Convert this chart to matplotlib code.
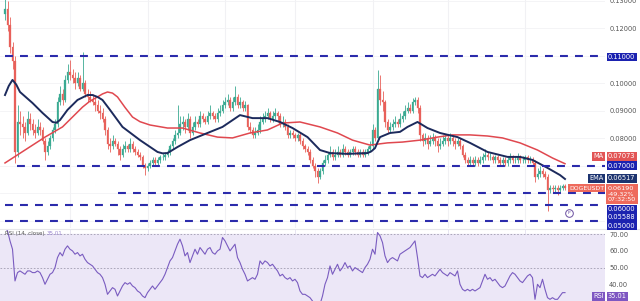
import numpy as np
import matplotlib
matplotlib.use("Agg")
import matplotlib.pyplot as plt

# ---------------- data ----------------
first_open = 0.1250
close = [
    0.1270, 0.1210, 0.1130, 0.1080, 0.0750, 0.0860, 0.0850, 0.0840, 0.0820, 0.0870,
    0.0850, 0.0830, 0.0820, 0.0840, 0.0830, 0.0790, 0.0750, 0.0770, 0.0800, 0.0830,
    0.0850, 0.0930, 0.0960, 0.0940, 0.1010, 0.1040, 0.1030, 0.1020, 0.1000, 0.1020,
    0.0980, 0.1000, 0.0960, 0.0950, 0.0940, 0.0930, 0.0920, 0.0900, 0.0890, 0.0870,
    0.0830, 0.0780, 0.0770, 0.0790, 0.0780, 0.0760, 0.0740, 0.0760, 0.0770, 0.0760,
    0.0780, 0.0760, 0.0750, 0.0740, 0.0730, 0.0700, 0.0690, 0.0700, 0.0710, 0.0720,
    0.0710, 0.0720, 0.0730, 0.0730, 0.0740, 0.0750, 0.0770, 0.0790, 0.0810, 0.0820,
    0.0850, 0.0860, 0.0840, 0.0870, 0.0820, 0.0840, 0.0860, 0.0850, 0.0880, 0.0870,
    0.0860, 0.0880, 0.0890, 0.0880, 0.0870, 0.0890, 0.0900, 0.0920, 0.0930, 0.0940,
    0.0910, 0.0930, 0.0950, 0.0920, 0.0930, 0.0910, 0.0920, 0.0840, 0.0830, 0.0810,
    0.0820, 0.0830, 0.0860, 0.0870, 0.0880, 0.0890, 0.0870, 0.0880, 0.0890, 0.0880,
    0.0850, 0.0860, 0.0840, 0.0810, 0.0820, 0.0810, 0.0800, 0.0810, 0.0790, 0.0770,
    0.0760, 0.0750, 0.0720, 0.0700, 0.0680, 0.0660, 0.0680, 0.0710, 0.0720, 0.0740,
    0.0750, 0.0730, 0.0740, 0.0750, 0.0740, 0.0760, 0.0750, 0.0740, 0.0750, 0.0760,
    0.0750, 0.0740, 0.0750, 0.0740, 0.0750, 0.0760, 0.0770, 0.0830, 0.0800, 0.0980,
    0.0940, 0.0930, 0.0860, 0.0830, 0.0840, 0.0850, 0.0860, 0.0850, 0.0870, 0.0880,
    0.0900, 0.0910, 0.0900, 0.0930, 0.0940, 0.0910, 0.0810, 0.0790, 0.0800, 0.0780,
    0.0790, 0.0800, 0.0790, 0.0770, 0.0780, 0.0790, 0.0800, 0.0790, 0.0800, 0.0790,
    0.0780, 0.0790, 0.0770, 0.0740, 0.0720, 0.0710, 0.0720, 0.0710, 0.0720, 0.0710,
    0.0720, 0.0730, 0.0740, 0.0730, 0.0730, 0.0720, 0.0730, 0.0720, 0.0710, 0.0720,
    0.0710, 0.0720, 0.0730, 0.0720, 0.0720, 0.0730, 0.0720, 0.0720, 0.0730, 0.0720,
    0.0720, 0.0710, 0.0660, 0.0670, 0.0680, 0.0670, 0.0660, 0.0610, 0.0620, 0.0615,
    0.0620, 0.0610, 0.0620, 0.0625, 0.0619,
]
high = [
    0.1320, 0.1300, 0.1240, 0.1150, 0.1100, 0.0920, 0.0900, 0.0880, 0.0860, 0.0900,
    0.0890, 0.0870, 0.0850, 0.0870, 0.0860, 0.0840, 0.0800, 0.0790, 0.0810, 0.0840,
    0.0870, 0.0950, 0.0990, 0.0980, 0.1030, 0.1070, 0.1085, 0.1050, 0.1040, 0.1040,
    0.1030, 0.1113, 0.1010, 0.0980, 0.0970, 0.0960, 0.0950, 0.0940, 0.0920, 0.0910,
    0.0880, 0.0840, 0.0800, 0.0810, 0.0800, 0.0790, 0.0770, 0.0780, 0.0790, 0.0780,
    0.0800, 0.0790, 0.0770, 0.0760, 0.0750, 0.0740, 0.0710, 0.0710, 0.0720, 0.0730,
    0.0730, 0.0730, 0.0740, 0.0745, 0.0750, 0.0760, 0.0780, 0.0800, 0.0830, 0.0920,
    0.0880, 0.0880, 0.0870, 0.0890, 0.0880, 0.0860, 0.0880, 0.0870, 0.0900, 0.0890,
    0.0880, 0.0900, 0.0920, 0.0900, 0.0890, 0.0910, 0.0920, 0.0940, 0.0950, 0.0960,
    0.0950, 0.0950, 0.0990, 0.0960, 0.0950, 0.0940, 0.0935, 0.0925, 0.0860, 0.0840,
    0.0840, 0.0850, 0.0880, 0.0890, 0.0900, 0.0910, 0.0900, 0.0900, 0.0910, 0.0900,
    0.0890, 0.0880, 0.0870, 0.0850, 0.0830, 0.0830, 0.0820, 0.0820, 0.0820, 0.0800,
    0.0780, 0.0770, 0.0760, 0.0730, 0.0710, 0.0690, 0.0690, 0.0720, 0.0740, 0.0750,
    0.0770, 0.0760, 0.0760, 0.0770, 0.0760, 0.0780, 0.0770, 0.0760, 0.0760, 0.0770,
    0.0770, 0.0760, 0.0760, 0.0760, 0.0760, 0.0770, 0.0790, 0.0850, 0.0840, 0.1048,
    0.1030, 0.0970, 0.0940, 0.0870, 0.0860, 0.0870, 0.0880, 0.0870, 0.0890, 0.0900,
    0.0920, 0.0930, 0.0925, 0.0946, 0.0950, 0.0950, 0.0920, 0.0820, 0.0820, 0.0810,
    0.0810, 0.0820, 0.0810, 0.0800, 0.0800, 0.0810, 0.0815, 0.0810, 0.0820, 0.0810,
    0.0800, 0.0800, 0.0800, 0.0780, 0.0750, 0.0730, 0.0735, 0.0730, 0.0735, 0.0730,
    0.0735, 0.0745, 0.0760, 0.0750, 0.0745, 0.0740, 0.0740, 0.0740, 0.0730, 0.0730,
    0.0730, 0.0735, 0.0745, 0.0740, 0.0735, 0.0745, 0.0740, 0.0735, 0.0740, 0.0740,
    0.0735, 0.0730, 0.0720, 0.0690, 0.0700, 0.0690, 0.0680, 0.0670, 0.0630, 0.0630,
    0.0630, 0.0630, 0.0630, 0.0635, 0.0635,
]
low = [
    0.1230, 0.1190, 0.1110, 0.1050, 0.0710, 0.0730, 0.0810, 0.0800, 0.0790, 0.0810,
    0.0830, 0.0810, 0.0800, 0.0810, 0.0810, 0.0780, 0.0720, 0.0740, 0.0760, 0.0790,
    0.0820, 0.0840, 0.0920, 0.0920, 0.0930, 0.1000, 0.1010, 0.1000, 0.0980, 0.0990,
    0.0970, 0.0970, 0.0950, 0.0930, 0.0930, 0.0920, 0.0900, 0.0890, 0.0870, 0.0860,
    0.0810, 0.0760, 0.0750, 0.0760, 0.0770, 0.0740, 0.0720, 0.0730, 0.0750, 0.0750,
    0.0750, 0.0750, 0.0740, 0.0730, 0.0720, 0.0690, 0.0666, 0.0680, 0.0690, 0.0700,
    0.0700, 0.0700, 0.0710, 0.0720, 0.0720, 0.0730, 0.0740, 0.0760, 0.0780, 0.0800,
    0.0810, 0.0830, 0.0820, 0.0830, 0.0800, 0.0810, 0.0830, 0.0840, 0.0840, 0.0860,
    0.0850, 0.0850, 0.0870, 0.0870, 0.0860, 0.0860, 0.0880, 0.0890, 0.0910, 0.0920,
    0.0900, 0.0900, 0.0920, 0.0910, 0.0910, 0.0900, 0.0900, 0.0830, 0.0820, 0.0800,
    0.0800, 0.0810, 0.0820, 0.0850, 0.0860, 0.0870, 0.0860, 0.0860, 0.0870, 0.0860,
    0.0840, 0.0840, 0.0830, 0.0800, 0.0800, 0.0800, 0.0790, 0.0790, 0.0780, 0.0760,
    0.0750, 0.0740, 0.0710, 0.0690, 0.0660, 0.0637, 0.0650, 0.0670, 0.0700, 0.0710,
    0.0730, 0.0720, 0.0720, 0.0730, 0.0730, 0.0730, 0.0740, 0.0730, 0.0730, 0.0740,
    0.0740, 0.0730, 0.0730, 0.0730, 0.0730, 0.0740, 0.0750, 0.0760, 0.0790, 0.0790,
    0.0920, 0.0900, 0.0840, 0.0820, 0.0820, 0.0830, 0.0840, 0.0840, 0.0840, 0.0860,
    0.0870, 0.0890, 0.0890, 0.0890, 0.0920, 0.0890, 0.0790, 0.0770, 0.0780, 0.0760,
    0.0770, 0.0780, 0.0770, 0.0750, 0.0760, 0.0770, 0.0780, 0.0770, 0.0780, 0.0770,
    0.0760, 0.0770, 0.0760, 0.0730, 0.0710, 0.0700, 0.0700, 0.0700, 0.0700, 0.0700,
    0.0705, 0.0710, 0.0720, 0.0720, 0.0720, 0.0710, 0.0710, 0.0710, 0.0700, 0.0700,
    0.0700, 0.0700, 0.0710, 0.0710, 0.0710, 0.0710, 0.0710, 0.0710, 0.0710, 0.0710,
    0.0710, 0.0700, 0.0640, 0.0650, 0.0660, 0.0660, 0.0650, 0.0535, 0.0600, 0.0600,
    0.0600, 0.0595, 0.0600, 0.0610, 0.0610,
]
rsi = [
    74, 72, 66, 61, 42, 47, 48, 47, 46, 48,
    48, 47, 47, 48, 47, 44, 40, 43, 46, 47,
    50, 56, 59, 57, 61, 63, 61, 60, 58, 59,
    57, 58, 55, 53, 52, 51, 49, 47, 46, 44,
    40, 34, 36, 38, 37, 33, 36, 39, 41, 40,
    41, 39, 38, 36, 35, 33, 32, 35, 37, 39,
    37, 39, 41, 43, 46, 50, 54, 56, 60, 64,
    67, 63, 57, 59, 53, 57, 61, 58, 62, 60,
    58, 61, 62, 59, 58, 60, 61, 68, 66, 63,
    60, 62, 64, 56, 53, 49, 46, 42, 43, 44,
    43, 46, 54, 52, 54, 53, 51, 52, 50, 48,
    45, 46, 44, 43, 44, 42, 43, 41, 36, 34,
    34, 33, 32, 30, 27, 26, 28, 33, 40, 44,
    51, 46, 49, 52, 48, 50, 53, 50, 51, 48,
    50, 49, 48, 47, 50, 52, 55, 61, 58, 71,
    69, 65, 57, 53, 55, 56, 55, 54, 58, 59,
    60, 61, 62, 64, 66, 56, 45, 44, 46, 44,
    45, 46, 45, 47, 49, 47, 46, 45, 47, 46,
    45, 48, 40, 37, 36, 37, 36, 37, 36, 37,
    38, 42, 46, 43, 44, 42, 43, 41, 39, 38,
    39, 42, 45, 47, 46, 44, 42, 41, 43, 45,
    46, 44, 31, 40, 38, 43, 37, 32, 31, 32,
    31, 31, 33, 35, 35.01,
]
ma_idx = [0, 8, 16, 23, 27, 31, 34, 37, 39, 41, 43, 45, 48, 51, 54, 58, 65, 71, 78, 85,
          91, 98, 105, 111, 118, 126, 133, 139, 146, 153, 159, 166, 173, 179, 186, 193,
          199, 206, 213, 219, 224]
ma_val = [0.0710, 0.0757, 0.0804, 0.0841, 0.0877, 0.0913, 0.0935, 0.0950, 0.0961, 0.0968,
          0.0964, 0.0950, 0.0912, 0.0877, 0.0860, 0.0848, 0.0837, 0.0837, 0.0819, 0.0804,
          0.0801, 0.0819, 0.0830, 0.0855, 0.0859, 0.0841, 0.0819, 0.0793, 0.0775, 0.0783,
          0.0786, 0.0793, 0.0804, 0.0812, 0.0812, 0.0808, 0.0801, 0.0783, 0.0757, 0.0728,
          0.07073]
ema_idx = [0, 1.5, 3, 4.5, 6, 11, 15, 19, 20.5, 22, 25, 29, 33, 35, 37, 39, 42, 47, 54,
           61, 63, 65, 69, 74, 81, 87, 94, 99, 105, 110, 115, 121, 126, 130, 137, 145,
           146.5, 148, 149, 150, 154, 158, 161, 165, 169, 174, 181, 186, 193, 201, 206,
           211, 217, 222, 224]
ema_val = [0.0957, 0.0990, 0.1012, 0.0995, 0.0968, 0.0928, 0.0892, 0.0859, 0.0856, 0.0866,
           0.0903, 0.0939, 0.0957, 0.0957, 0.0950, 0.0939, 0.0903, 0.0841, 0.0793, 0.0750,
           0.0745, 0.0746, 0.0768, 0.0793, 0.0819, 0.0841, 0.0884, 0.0873, 0.0873, 0.0859,
           0.0837, 0.0804, 0.0757, 0.0746, 0.0743, 0.0746, 0.0752, 0.0764, 0.0785, 0.0804,
           0.0819, 0.0823, 0.0841, 0.0859, 0.0837, 0.0819, 0.0804, 0.0783, 0.0750, 0.0732,
           0.0732, 0.0721, 0.0692, 0.0666, 0.06517]

levels = [0.1100, 0.0700, 0.0600, 0.05588, 0.0500]
level_start = [0, 4.8, 45.2, 0, 0]          # candle index where each drawn line begins
level_labels = ["0.11000", "0.07000", "0.06000", "0.05588", "0.05000"]
price_ticks = [0.08, 0.09, 0.10, 0.12, 0.13]
rsi_ticks = [30, 40, 50, 60, 70]
month_starts = [26, 57, 88, 116, 147, 177, 208]
ma_last = 0.07073
ema_last = 0.06517
last_price = 0.06190
change_text = "-49.32%"
countdown = "07:32:50"
rsi_last = 35.01

# ---------------- figure ----------------
W, H = 640, 301
fig = plt.figure(figsize=(6.4, 3.01), dpi=100)
fig.patch.set_facecolor("white")

def fx(px):
    return px / W

def fy(py):
    return 1 - py / H

AX_R = 605
ax = fig.add_axes([0, fy(228), fx(AX_R), 228 / H])
rax = fig.add_axes([0, 0, fx(AX_R), fy(229)])

N = len(close)
idx = np.arange(N)
opens = np.array([first_open] + close[:-1])
closes = np.array(close)
highs = np.array(high)
lows = np.array(low)

UP, DN = "#3aaa92", "#e8605a"
cols = np.where(closes >= opens, UP, DN)
XMAX = 240
ax.set_xlim(-2, XMAX)
ax.set_ylim(0.04735, 0.13025)

# faint grid
for m in month_starts:
    ax.axvline(m, color="#f1f1f4", lw=0.8, zorder=0)
    rax.axvline(m, color="#e4e0f0", lw=0.6, zorder=0)
for t in price_ticks + [0.11, 0.07, 0.06, 0.05]:
    ax.axhline(t, color="#f3f3f5", lw=0.6, zorder=0)

# candles
ax.vlines(idx, lows, highs, colors=cols, lw=0.6, zorder=2)
bot = np.minimum(opens, closes)
hgt = np.maximum(np.abs(closes - opens), 0.00025)
ax.bar(idx, hgt, bottom=bot, width=0.62, color=cols, edgecolor=cols, lw=0.2, zorder=3)

# moving averages
ax.plot(ma_idx, ma_val, color="#e0484f", lw=1.1, zorder=4, solid_joinstyle="round")
ax.plot(ema_idx, ema_val, color="#1c2a5c", lw=1.4, zorder=5, solid_joinstyle="round")

# horizontal levels
LV = "#2b2bab"
for lv, st in zip(levels, level_start):
    ax.hlines(lv, st, XMAX, colors=LV, lw=1.5, linestyles=(0, (3.8, 3.4)), zorder=6)

# small marker near the bottom
ax.plot([225.5], [0.0528], marker="o", ms=5.5, mfc="white", mec="#6a4fa0", mew=0.7, zorder=7)
ax.text(225.5, 0.0528, "P", fontsize=3.2, color="#6a4fa0", ha="center", va="center", zorder=8)

ax.yaxis.tick_right()
ax.set_yticks(price_ticks)
ax.set_yticklabels([f"{t:.5f}" for t in price_ticks])
ax.tick_params(axis="y", length=0, pad=3, labelsize=4.8, labelcolor="#555555")
ax.set_xticks([])
for s in ax.spines.values():
    s.set_visible(False)

# right-hand label boxes (price scale)
def box(xpx, ypx, s, fc, tc="white", ha="left", size=4.8):
    fig.text(fx(xpx), fy(ypx), s, fontsize=size, color=tc, ha=ha, va="center",
             bbox=dict(boxstyle="square,pad=0.22", fc=fc, ec="none"))

BLUE_BOX = "#1b22b0"
box(608, 57, level_labels[0], BLUE_BOX)
box(608, 156.5, f"{ma_last:.5f}", "#e25555")
box(604, 156.5, "MA", "#e25555", ha="right")
box(608, 165.5, level_labels[1], BLUE_BOX)
box(608, 178.5, f"{ema_last:.5f}", "#1d3470")
box(604, 178.5, "EMA", "#1d3470", ha="right")
fig.text(fx(608), fy(194), f"{last_price:.5f}\n{change_text}\n{countdown}", fontsize=4.6,
         color="white", ha="left", va="center", linespacing=1.15,
         bbox=dict(boxstyle="square,pad=0.25", fc="#ee6a5c", ec="none"))
box(604, 188, "DOGEUSDT", "#ee6a5c", ha="right", size=4.4)
box(608, 209, level_labels[2], BLUE_BOX)
box(608, 217, level_labels[3], BLUE_BOX)
box(608, 225.5, level_labels[4], BLUE_BOX)

# ---------------- RSI panel ----------------
rax.set_xlim(-2, XMAX)
rax.set_ylim(32.6, 73.1)
rax.axhspan(30, 70, color="#ece7f7", zorder=0)
for lv in (70, 50, 30):
    rax.axhline(lv, color="#a09cb0", lw=0.6, ls=(0, (2, 2)), zorder=1)
rax.plot(idx, rsi, color="#7a5cc0", lw=0.8, zorder=3)
rax.yaxis.tick_right()
rax.set_yticks(rsi_ticks)
rax.set_yticklabels([f"{t:.2f}" for t in rsi_ticks])
rax.tick_params(axis="y", length=0, pad=3, labelsize=4.8, labelcolor="#555555")
rax.set_xticks([])
for s in rax.spines.values():
    s.set_visible(False)
fig.text(fx(5), fy(233.5), "RSI (14, close)", fontsize=4.0, color="#555555", ha="left", va="center")
fig.text(fx(47), fy(233.5), f"{rsi_last:.2f}", fontsize=4.0, color="#9b86d0", ha="left", va="center")
box(608, 296.5, f"{rsi_last:.2f}", "#7e57c2")
box(604, 296.5, "RSI", "#7e57c2", ha="right")

# panel separator
fig.add_artist(plt.Line2D([0, 1], [fy(228.5), fy(228.5)], color="#e6e6ea", lw=0.8))

fig.savefig("out.png", dpi=100, facecolor="white")
